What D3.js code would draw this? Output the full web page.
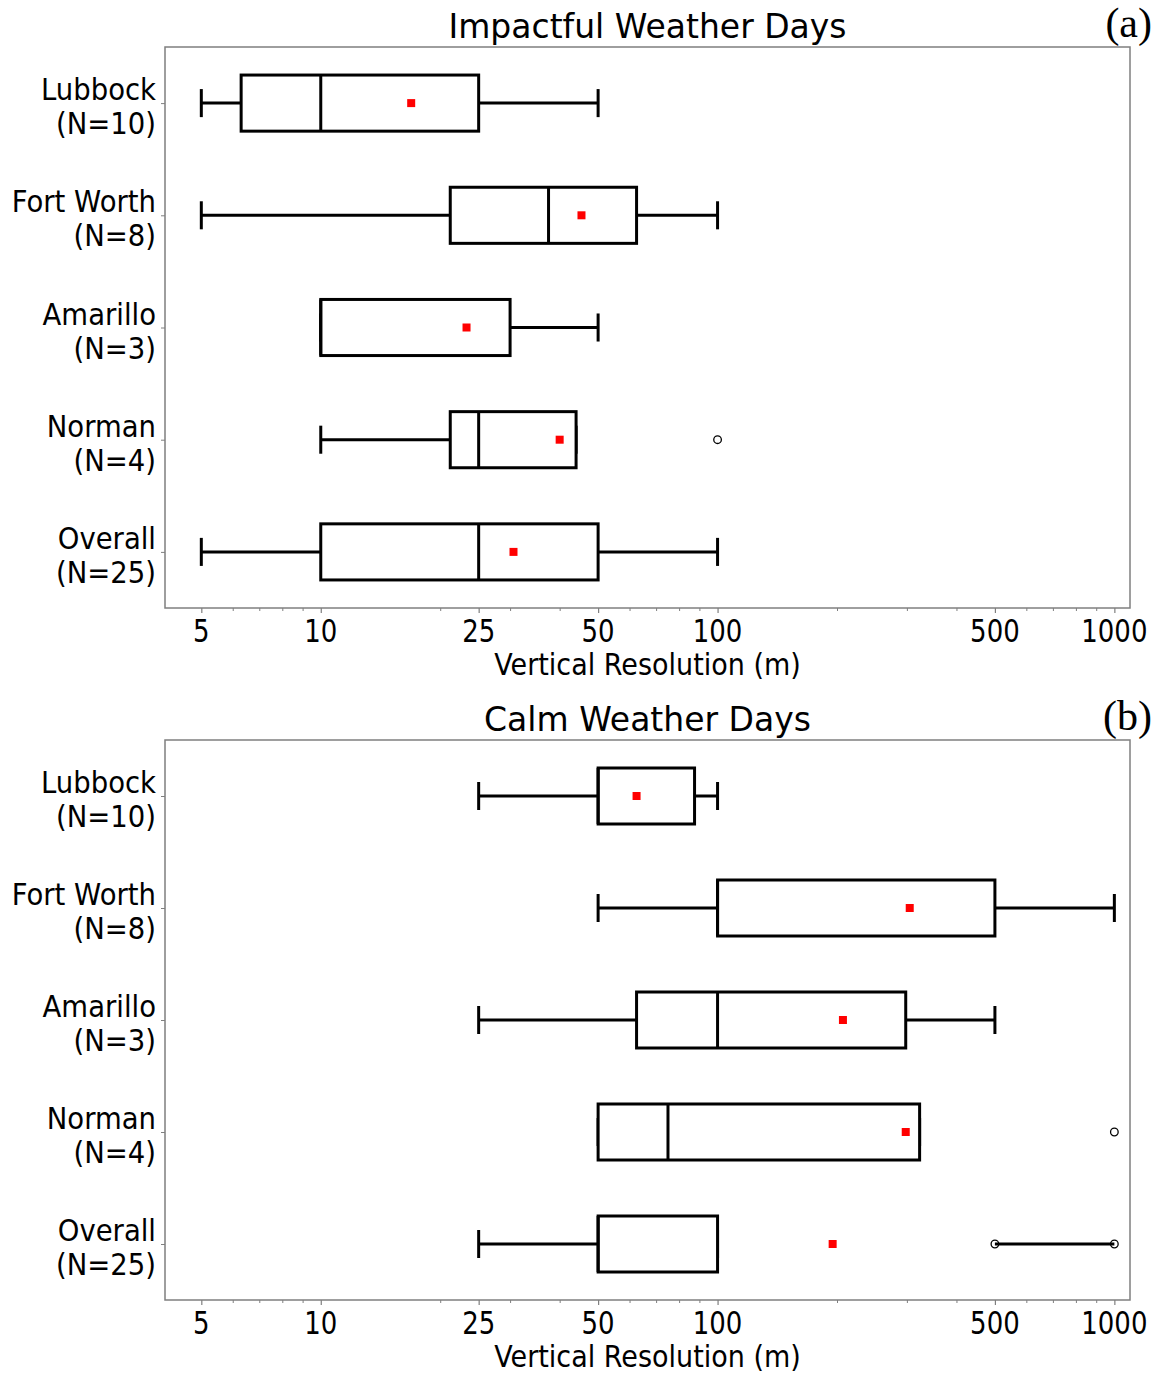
<!DOCTYPE html>
<html>
<head>
<meta charset="utf-8">
<script src="https://cdn.jsdelivr.net/npm/d3@7"></script>
<style>
  body { margin: 0; background: #fff; }
  svg text { font-family: "DejaVu Sans", sans-serif; fill: #000; }
</style>
</head>
<body>
<svg id="chart" width="1159" height="1375"></svg>
<script>
const stations = ["Lubbock", "Fort Worth", "Amarillo", "Norman", "Overall"];
const counts = [10, 8, 3, 4, 25];

const majorTicks = [5, 10, 25, 50, 100, 500, 1000];
const minorTicks = [6, 7, 8, 9, 20, 30, 40, 60, 70, 80, 90, 200, 300, 400, 600, 700, 800, 900];

// (a) impactful weather days
const impactWhiskLo = [5, 5, 10, 10, 5];
const impactQ1 = [6.3, 21.2, 10, 21.2, 10];
const impactMedian = [10, 37.5, 10, 25, 25];
const impactQ3 = [25, 62.5, 30, 44, 50];
const impactWhiskHi = [50, 100, 50, 44, 100];
const impactMean = [16.9, 45.4, 23.3, 40, 30.6];
const impactOutliers = [[], [], [], [100], []];

// (b) calm weather days
const calmWhiskLo = [25, 50, 25, 50, 25];
const calmQ1 = [50, 100, 62.5, 50, 50];
const calmMedian = [50, 100, 100, 75, 50];
const calmQ3 = [87.5, 500, 298, 323, 100];
const calmWhiskHi = [100, 1000, 500, 323, 100];
const calmMean = [62.5, 305, 207, 298, 195];
const calmOutliers = [[], [], [], [1000], [500, 1000]];

const svg = d3.select("#chart");
const left = 165, right = 1130;

function buildRows(lo, q1, med, q3, hi, mean, out) {
  return stations.map((s, i) => ({
    name: s, n: counts[i], pos: i + 1,
    lo: lo[i], q1: q1[i], med: med[i], q3: q3[i], hi: hi[i], mean: mean[i], out: out[i]
  }));
}

// text slightly taller than wide, like the source figure
function label(g, x, y, str, size, anchor, sy) {
  return g.append("text")
    .attr("transform", `translate(${x},${y}) scale(1,${sy})`)
    .attr("text-anchor", anchor)
    .style("font-size", size + "px")
    .text(str);
}

function drawPanel(top, bottom, title, tag, rows) {
  const x = d3.scaleLog().domain([4.05, 1095]).range([left, right]);
  const y = d3.scaleLinear().domain([0.5, 5.5]).range([top, bottom]);
  const half = (y(1) - y(0.5)) / 2;
  const g = svg.append("g");

  g.append("rect")
    .attr("x", left).attr("y", top)
    .attr("width", right - left).attr("height", bottom - top)
    .attr("fill", "none").attr("stroke", "#7f7f7f").attr("stroke-width", 1.5);

  // x ticks
  g.append("g").attr("transform", `translate(0,${bottom})`)
    .call(d3.axisBottom(x).tickValues(majorTicks).tickFormat("").tickSize(5))
    .call(a => a.select(".domain").remove())
    .call(a => a.selectAll(".tick line").attr("stroke", "#7f7f7f").attr("stroke-width", 1.2));
  g.append("g").attr("transform", `translate(0,${bottom})`)
    .call(d3.axisBottom(x).tickValues(minorTicks).tickFormat("").tickSize(3))
    .call(a => a.select(".domain").remove())
    .call(a => a.selectAll(".tick line").attr("stroke", "#7f7f7f").attr("stroke-width", 1));
  majorTicks.forEach(t => label(g, x(t), bottom + 34, String(t), 26, "middle", 1.2));

  label(g, (left + right) / 2, bottom + 67, "Vertical Resolution (m)", 27, "middle", 1.1);

  // y ticks + two-line labels
  g.append("g").attr("transform", `translate(${left},0)`)
    .call(d3.axisLeft(y).tickValues(rows.map(r => r.pos)).tickFormat("").tickSize(4))
    .call(a => a.select(".domain").remove())
    .call(a => a.selectAll(".tick line").attr("stroke", "#7f7f7f"));
  rows.forEach(r => {
    label(g, left - 9, y(r.pos) - 3, r.name, 27.5, "end", 1.1);
    label(g, left - 9, y(r.pos) + 31, `(N=${r.n})`, 27.5, "end", 1.1);
  });

  label(g, (left + right) / 2, top - 9, title, 33, "middle", 1);
  label(g, 1152, top - 10, tag, 42, "end", 1)
    .style("font-family", "'Liberation Serif', 'DejaVu Serif', serif");

  const box = g.append("g").attr("stroke", "#000").attr("stroke-width", 3).attr("fill", "none");
  rows.forEach(r => {
    const cy = y(r.pos);
    box.append("line").attr("x1", x(r.lo)).attr("x2", x(r.q1)).attr("y1", cy).attr("y2", cy);
    box.append("line").attr("x1", x(r.q3)).attr("x2", x(r.hi)).attr("y1", cy).attr("y2", cy);
    [r.lo, r.hi].forEach(v => {
      box.append("line").attr("x1", x(v)).attr("x2", x(v)).attr("y1", cy - half / 2).attr("y2", cy + half / 2);
    });
    box.append("rect")
      .attr("x", x(r.q1)).attr("y", cy - half)
      .attr("width", x(r.q3) - x(r.q1)).attr("height", 2 * half)
      .attr("fill", "#fff");
    box.append("line").attr("x1", x(r.med)).attr("x2", x(r.med)).attr("y1", cy - half).attr("y2", cy + half);
    if (r.out.length > 1) {
      box.append("line").attr("x1", x(d3.min(r.out))).attr("x2", x(d3.max(r.out))).attr("y1", cy).attr("y2", cy);
    }
    r.out.forEach(v => {
      g.append("circle").attr("cx", x(v)).attr("cy", cy).attr("r", 3.8)
        .attr("fill", r.out.length > 1 ? "none" : "#fff").attr("stroke", "#000").attr("stroke-width", 1.3);
    });
  });

  // means
  g.append("g").selectAll("rect").data(rows).join("rect")
    .attr("x", d => x(d.mean) - 4).attr("y", d => y(d.pos) - 4)
    .attr("width", 8).attr("height", 8).attr("fill", "#ff0000");
}

drawPanel(47, 608, "Impactful Weather Days", "(a)",
  buildRows(impactWhiskLo, impactQ1, impactMedian, impactQ3, impactWhiskHi, impactMean, impactOutliers));
drawPanel(740, 1300, "Calm Weather Days", "(b)",
  buildRows(calmWhiskLo, calmQ1, calmMedian, calmQ3, calmWhiskHi, calmMean, calmOutliers));
</script>
</body>
</html>
